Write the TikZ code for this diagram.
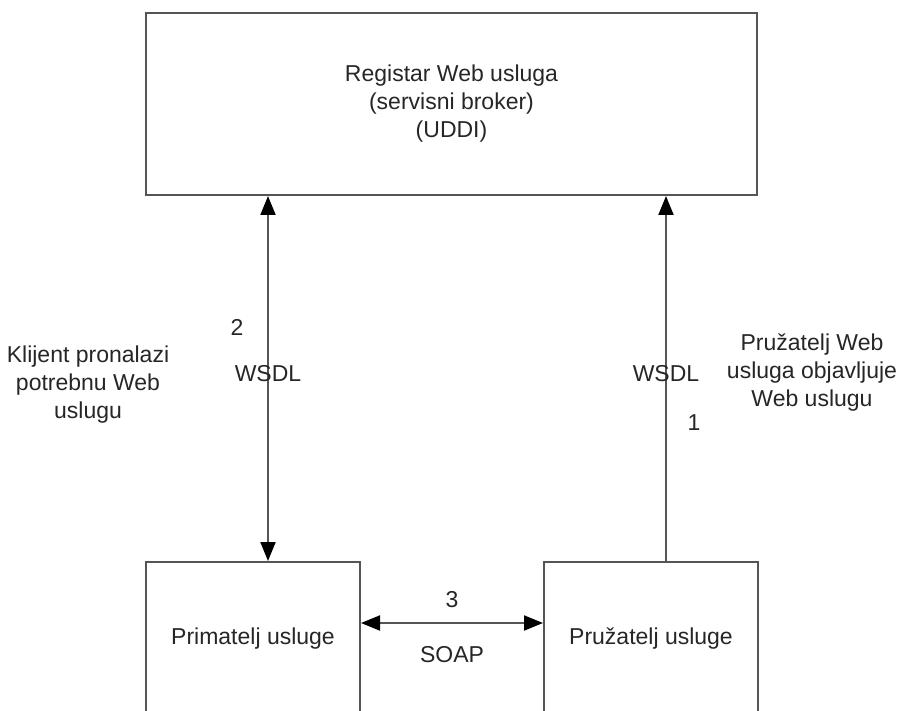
\documentclass[tikz,border=0pt]{standalone}
\usepackage{fontspec}
\setmainfont{Liberation Sans}
\usetikzlibrary{arrows.meta}
\usetikzlibrary{positioning,calc}
\definecolor{linegray}{HTML}{555555}
\definecolor{textgray}{HTML}{262626}
\tikzstyle{block} = [draw=linegray, line width=1pt,
	minimum width = 107pt,
	minimum height = 77pt, text=textgray]
\tikzstyle{link} = [draw=linegray, line width=1pt]
\tikzstyle{arrow} = [-{Triangle[length=9.5pt, width=7.5pt, color=black]}]
\tikzstyle{twoway} = [{Triangle[length=9.5pt, width=7.5pt, color=black]}-{Triangle[length=9.5pt, width=7.5pt, color=black]}]
\tikzstyle{label} = [text=textgray, inner sep=1pt]

\begin{document}
\begin{tikzpicture}[x=0.5pt, y=-0.5pt, font=\fontsize{11.5}{14}\selectfont]
			\useasboundingbox (0,0) rectangle (920,711);
			\clip (0,0) rectangle (920,711);
			\node (reg) [block, minimum width=305.5pt, minimum height=91pt, align=center] at (451.5,104) {Registar Web usluga\\(servisni broker)\\(UDDI)};
			\node (prim) [block] at (253,639) {Primatelj usluge};
			\node (pruz) [block, right=91pt of prim] {Pružatelj usluge};
			
			\coordinate (find) at (268,0);
			\coordinate (pub) at (666,0);
			\coordinate (msg) at (0,623);
			\draw [link, twoway] (reg.south -| find) -- (prim.north -| find);
			\draw [link, arrow] (pruz.north -| pub) -- (reg.south -| pub);
			\draw [link, twoway] (prim.east |- msg) -- (pruz.west |- msg);
			
			\node (two) [label] at (237,327) {2};
			\node (wsdlfind) [label] at (268,374) {WSDL};
			\node (client) [label, align=center] at (88,385) {Klijent pronalazi\\potrebnu Web\\uslugu};
			\node (wsdlpub) [label] at (666,374) {WSDL};
			\node (one) [label] at (694,423) {1};
			\node (provider) [label, align=center] at (812,373) {Pružatelj Web\\usluga objavljuje\\Web uslugu};
			\node (three) [label] at (452,600) {3};
			\node (soap) [label] at (452,655) {SOAP};
		\end{tikzpicture}
\end{document}
